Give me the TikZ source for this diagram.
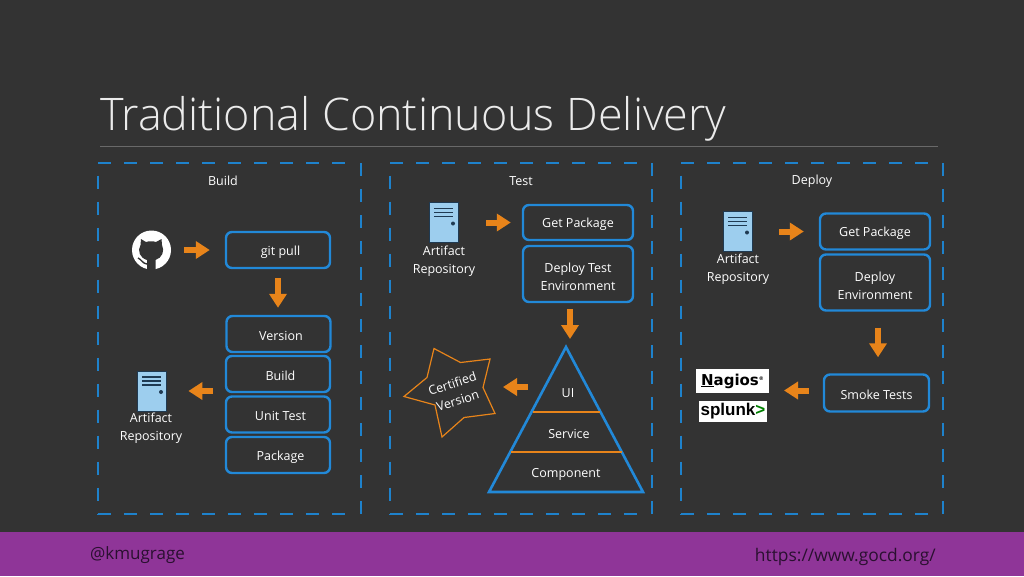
\documentclass[tikz,border=0pt]{standalone}
\usepackage{fontspec}
\setmainfont{Open Sans}
\newfontfamily\titlefont{Open Sans Light}
\newfontfamily\logofont{Liberation Sans}
\newfontfamily\nagiosfont{DejaVu Sans}
\usepackage{tikz}
\usetikzlibrary{arrows.meta}

\definecolor{slide}{HTML}{333333}
\definecolor{band}{HTML}{8F3598}
\definecolor{frameblue}{HTML}{1E82CC}
\definecolor{boxblue}{HTML}{2289D8}
\definecolor{flow}{HTML}{E8841A}
\definecolor{repofill}{HTML}{9DCEEE}
\definecolor{repodark}{HTML}{1F3A52}
\definecolor{bandtext}{HTML}{2A1030}

\tikzset{
	stage/.style={draw=frameblue, line width=2.8pt, dash pattern=on 13pt off 13pt},
	stagename/.style={text=white, font=\fontsize{12.5}{16}\selectfont},
	box/.style={draw=boxblue, line width=2.4pt, rounded corners=6pt, text=white, align=center,
		font=\fontsize{12.5}{18}\selectfont},
	buildstep/.style={box, minimum width=104pt, minimum height=36pt, execute at begin node={\hspace{5pt}}},
	caption/.style={text=white, align=center, font=\fontsize{12.5}{18}\selectfont},
	flowarrow/.style={draw=flow, line width=6pt, -{Triangle[width=17pt,length=14pt]}},
	repo/.style={rectangle, draw=repodark, fill=repofill, line width=0.8pt, minimum width=29pt, minimum height=40pt, inner sep=0pt,
		path picture={
			\draw[repodark, line width=1.6pt] ([xshift=5pt,yshift=-6pt]path picture bounding box.north west) -- ++(19pt,0);
			\draw[repodark, line width=1.6pt] ([xshift=5pt,yshift=-10pt]path picture bounding box.north west) -- ++(19pt,0);
			\draw[repodark, line width=1.6pt] ([xshift=5pt,yshift=-14pt]path picture bounding box.north west) -- ++(19pt,0);
			\fill[repodark] ([xshift=-5pt,yshift=-21pt]path picture bounding box.north east) circle (2pt);
		}},
	logo/.style={fill=white, text=black, inner sep=0pt}
}

% dashed frame of one stage, from its left side to its right side
\newcommand{\stageframe}[2]{
	\draw[stage] (#1,163) -- (#2-4,163);
	\draw[stage] (#2,163) -- (#2,515);
	\draw[stage] (#1,514) -- (#2-4,514);
	\draw[stage] (#1,175.5) -- (#1,514);
}
% pushes the text of a box down a little
\newcommand{\lowered}{\rule{0pt}{13pt}}
\newcommand{\loweredtwo}{\rule{0pt}{15.5pt}}

\begin{document}
\begin{tikzpicture}[x=1pt,y=-1pt]

	\useasboundingbox (0,0) rectangle (1024,576);
	\fill[slide] (0,0) rectangle (1024,576);
	\fill[band] (0,532) rectangle (1024,576);

	% title
	\node[text=white!92!black, anchor=base west, inner sep=0pt, font=\titlefont\fontsize{44.9}{50}\selectfont] (title) at (100,130) {Traditional Continuous Delivery};
	\draw[gray!70!slide, line width=1pt] (100,146) -- (938,146);

	% footer
	\node[text=bandtext, anchor=base west, inner sep=0pt, font=\fontsize{17}{20}\selectfont] (handle) at (90,559) {@kmugrage};
	\node[text=bandtext, anchor=base east, inner sep=0pt, font=\fontsize{17.4}{20}\selectfont] (site) at (936,561) {https://www.gocd.org/};

	% the three stages
	\stageframe{98}{361}
	\stageframe{390}{652}
	\stageframe{681}{943}
	\node[stagename] (buildname) at (223,181) {Build};
	\node[stagename] (testname) at (521,181) {Test};
	\node[stagename] (deployname) at (812,181) {Deploy};

	% build
	\node[circle, fill=white, minimum size=39pt, inner sep=0pt] (github) at (151.5,250) {};
	\fill[slide] (141,239) -- (146,242) .. controls (149,241) and (153,241) .. (156,242) -- (161.5,239)
		-- (162,245) .. controls (165,251) and (162,258) .. (155.5,260)
		-- (155.5,270) -- (147,270) -- (147,260) .. controls (140,258) and (137,251) .. (140.5,245) -- cycle;
	\draw[slide, line width=1.4pt] (138,258) .. controls (141,259) and (143,264) .. (147,264);

	\node[buildstep] (gitpull) at (278,250) {\lowered git pull};
	\node[buildstep] (version) at (278.5,334) {\lowered Version};
	\node[buildstep] (buildbox) at (278,374) {\lowered Build};
	\node[buildstep] (unittest) at (278,414.5) {\lowered Unit Test};
	\node[buildstep] (package) at (278,455) {\lowered Package};

	\node[repo] (buildrepo) at (151.5,391) {};
	\node[caption, anchor=north] (buildrepotext) at (151,409) {Artifact\\Repository};

	\path[flowarrow, shorten <=13pt, shorten >=15pt] (github) -- (gitpull);
	\path[flowarrow, shorten <=9pt, shorten >=7pt] (gitpull) -- (gitpull |- version.north);
	\path[flowarrow, shorten <=12pt, shorten >=22pt] (buildrepo -| buildbox.west) -- (buildrepo);

	% test
	\node[repo] (testrepo) at (443.5,222.5) {};
	\node[caption, anchor=north] (testrepotext) at (444,242) {Artifact\\Repository};
	\node[box, minimum width=110pt, minimum height=35pt] (getpackage) at (578,222.5) {\lowered Get Package};
	\node[box, minimum width=110pt, minimum height=56pt] (deploytest) at (578,274) {\loweredtwo Deploy Test\\Environment};

	\coordinate (apex) at (566,347);
	\coordinate (baseleft) at (489,492);
	\coordinate (baseright) at (643,492);
	\draw[draw=boxblue, line width=2.6pt] (apex) -- (baseright) -- (baseleft) -- cycle;
	\draw[flow, line width=2.2pt] (533,412) -- (600,412);
	\draw[flow, line width=2.2pt] (511,452) -- (622,452);
	\node[caption] (ui) at (568,393.5) {UI};
	\node[caption] (service) at (569,433.5) {Service};
	\node[caption] (component) at (566,474.5) {Component};

	\draw[flow, line width=1.2pt] (434,348.5) -- (460.5,362.5) -- (490,359) -- (483,387.5) -- (495,413.5) -- (464,417.5) -- (442,437) -- (435,405) -- (404,396.5) -- (427,377.5) -- cycle;
	\node[caption, rotate=18] (certified) at (455,392) {Certified\\Version};
	\coordinate (startip) at (503,387);

	\path[flowarrow, shorten <=28pt, shorten >=11pt] (testrepo) -- (getpackage);
	\path[flowarrow, shorten <=6pt, shorten >=8pt] (deploytest.south -| 570,0) -- (570,347);
	\path[flowarrow, shorten <=40pt] (ui |- startip) -- (startip);

	% deploy
	\node[repo] (deployrepo) at (737.5,231.5) {};
	\node[caption, anchor=north] (deployrepotext) at (738,250.5) {Artifact\\Repository};
	\node[box, minimum width=110pt, minimum height=36pt] (getpackagetwo) at (875,231.5) {\lowered Get Package};
	\node[box, minimum width=110pt, minimum height=56pt] (deployenv) at (875,282.5) {\loweredtwo Deploy\\Environment};
	\node[box, minimum width=105pt, minimum height=37pt] (smoketests) at (876.5,393) {\lowered Smoke Tests};

	\node[logo, minimum width=73pt, minimum height=24pt, font=\nagiosfont\bfseries\fontsize{15}{16}\selectfont] (nagios) at (732.5,381) {\underline{N}agios\raisebox{5pt}{\fontsize{5}{5}\selectfont ®}};
	\node[logo, minimum width=68pt, minimum height=21pt, font=\logofont\bfseries\fontsize{17}{18}\selectfont] (splunk) at (733,411.5) {splunk\textcolor{green!50!black}{>}};
	\coordinate (monitor) at (769,390.5);

	\path[flowarrow, shorten <=27pt, shorten >=15pt] (deployrepo) -- (getpackagetwo);
	\path[flowarrow, shorten <=16pt, shorten >=16pt] (deployenv.south -| 878,0) -- (smoketests.north -| 878,0);
	\path[flowarrow, shorten <=14pt, shorten >=15pt] (smoketests.west |- monitor) -- (monitor);

\end{tikzpicture}
\end{document}
